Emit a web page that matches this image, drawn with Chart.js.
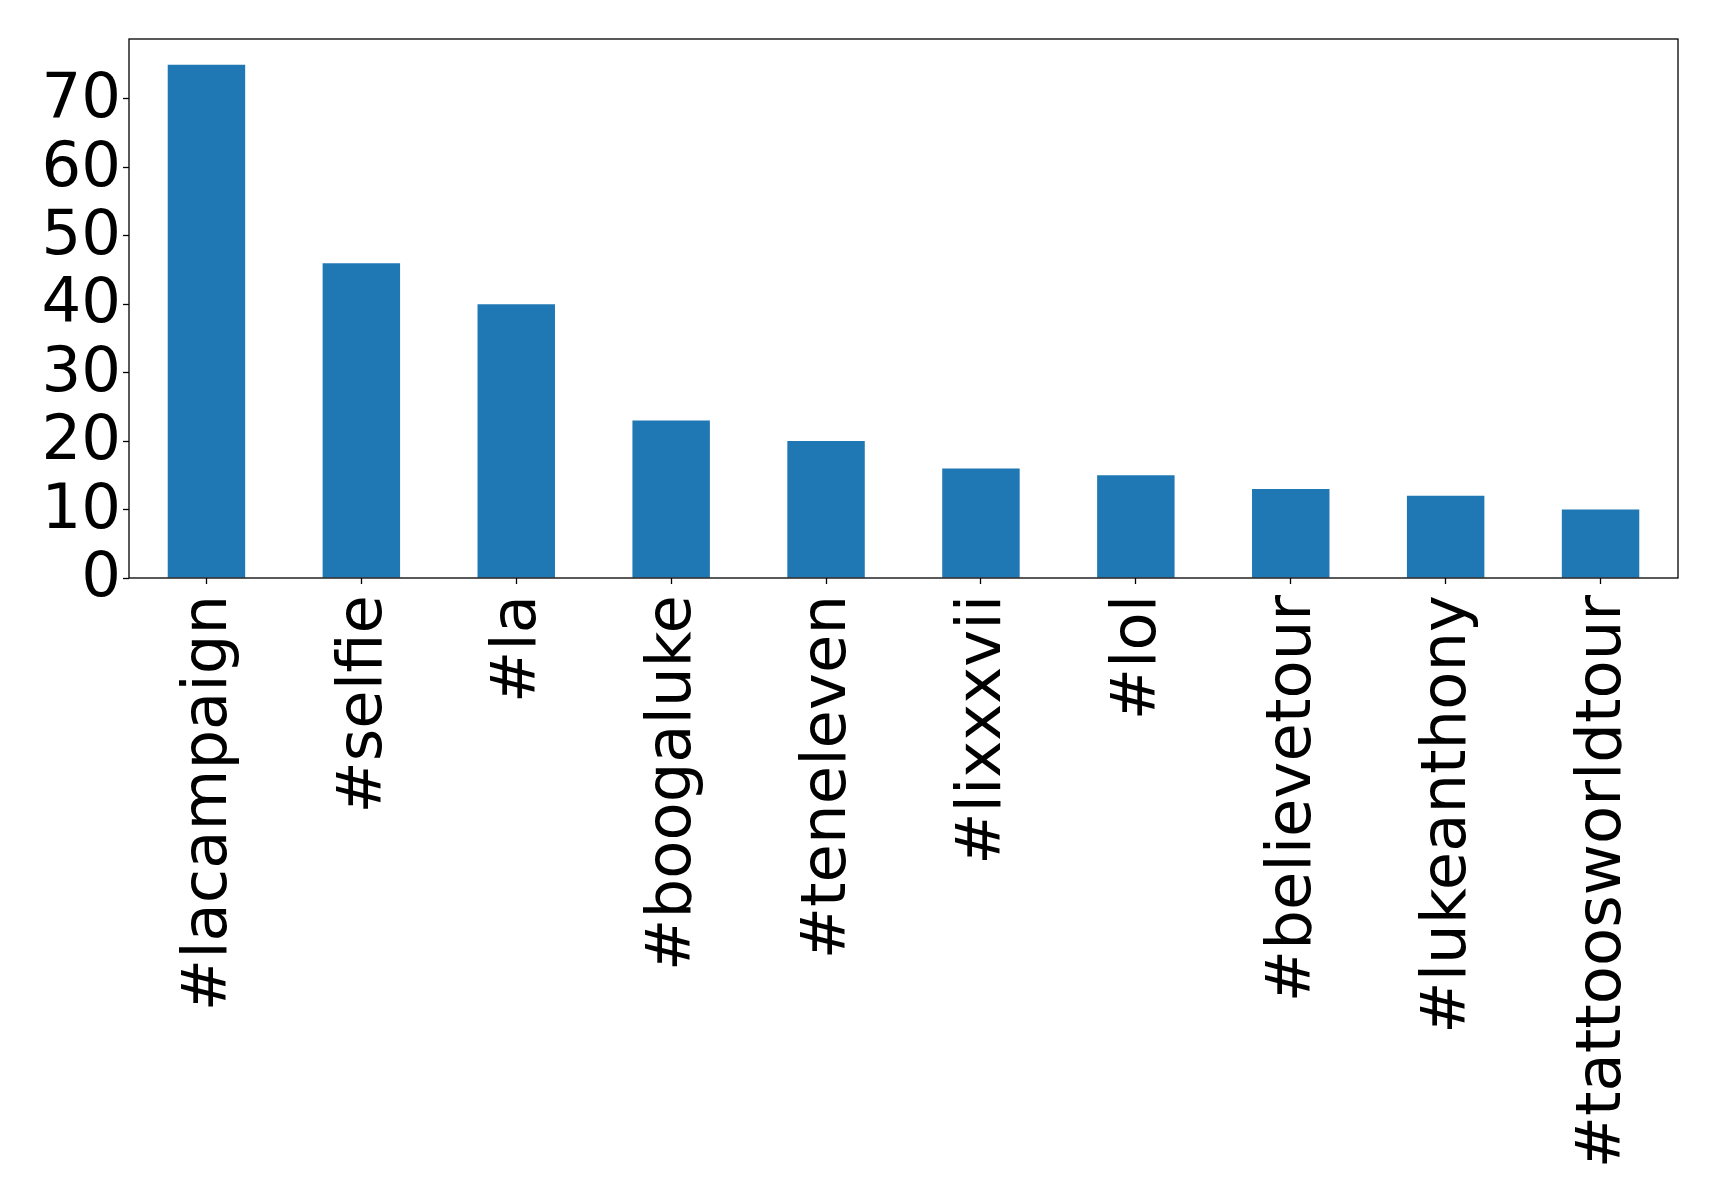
<!DOCTYPE html>
<html>
<head>
<meta charset="utf-8">
<script src="https://cdn.jsdelivr.net/npm/chart.js@4/dist/chart.umd.min.js"></script>
<style>
    html, body { margin: 0; padding: 0; background: #ffffff; }
    #wrap { width: 1719px; height: 1201px; }
</style>
</head>
<body>
<div id="wrap"><canvas id="hashtagChart"></canvas></div>
<script>
// data
const hashtags = ["#lacampaign", "#selfie", "#la", "#boogaluke", "#teneleven",
    "#lixxxvii", "#lol", "#believetour", "#lukeanthony", "#tattoosworldtour"];
const counts = [75, 46, 40, 23, 20, 16, 15, 13, 12, 10];
const yTicks = [0, 10, 20, 30, 40, 50, 60, 70];

// matplotlib style headroom above the tallest bar
const yMax = Math.max(...counts) * 1.05;

Chart.defaults.font.family = "'DejaVu Sans', sans-serif";
Chart.defaults.font.size = 62.5;
Chart.defaults.color = "#000";

// box round the plot area (all four spines)
const frame = {
    id: "frame",
    afterDraw(chart) {
        const a = chart.chartArea;
        const ctx = chart.ctx;
        ctx.save();
        ctx.strokeStyle = "#000";
        ctx.lineWidth = 1.3;
        ctx.strokeRect(a.left, a.top, a.right - a.left, a.bottom - a.top);
        ctx.restore();
    }
};

new Chart(document.getElementById("hashtagChart"), {
    type: "bar",
    data: {
        labels: hashtags,
        datasets: [{
            data: counts,
            backgroundColor: "#1f77b4",
            borderWidth: 0,
            barPercentage: 0.5,
            categoryPercentage: 1.0,
        }],
    },
    options: {
        responsive: true,
        maintainAspectRatio: false,
        animation: false,
        plugins: {
            legend: { display: false },
            tooltip: { enabled: false },
        },
        layout: {
            padding: { top: 39, right: 41, left: 0, bottom: 0 },
        },
        scales: {
            x: {
                afterFit: (scale) => {
                    scale.height = 623;
                    scale.paddingLeft = 0;
                    scale.paddingRight = 0;
                },
                grid: {
                    display: true,
                    offset: false,
                    drawOnChartArea: false,
                    drawTicks: true,
                    tickLength: 6,
                    tickColor: "#000",
                    tickWidth: 1.3,
                },
                border: { display: false },
                ticks: {
                    autoSkip: false,
                    minRotation: 90,
                    maxRotation: 90,
                    padding: 11,
                    labelOffset: 3,
                },
            },
            y: {
                min: 0,
                max: yMax,
                afterFit: (scale) => {
                    scale.width = 129;
                    scale.paddingTop = 0;
                    scale.paddingBottom = 0;
                },
                afterBuildTicks: (scale) => {
                    scale.ticks = yTicks.map((v) => ({ value: v }));
                },
                grid: {
                    display: true,
                    drawOnChartArea: false,
                    drawTicks: true,
                    tickLength: 6,
                    tickColor: "#000",
                    tickWidth: 1.3,
                },
                border: { display: false },
                ticks: {
                    autoSkip: false,
                    padding: 2,
                    labelOffset: 2,
                },
            },
        },
    },
    plugins: [frame],
});
</script>
</body>
</html>
